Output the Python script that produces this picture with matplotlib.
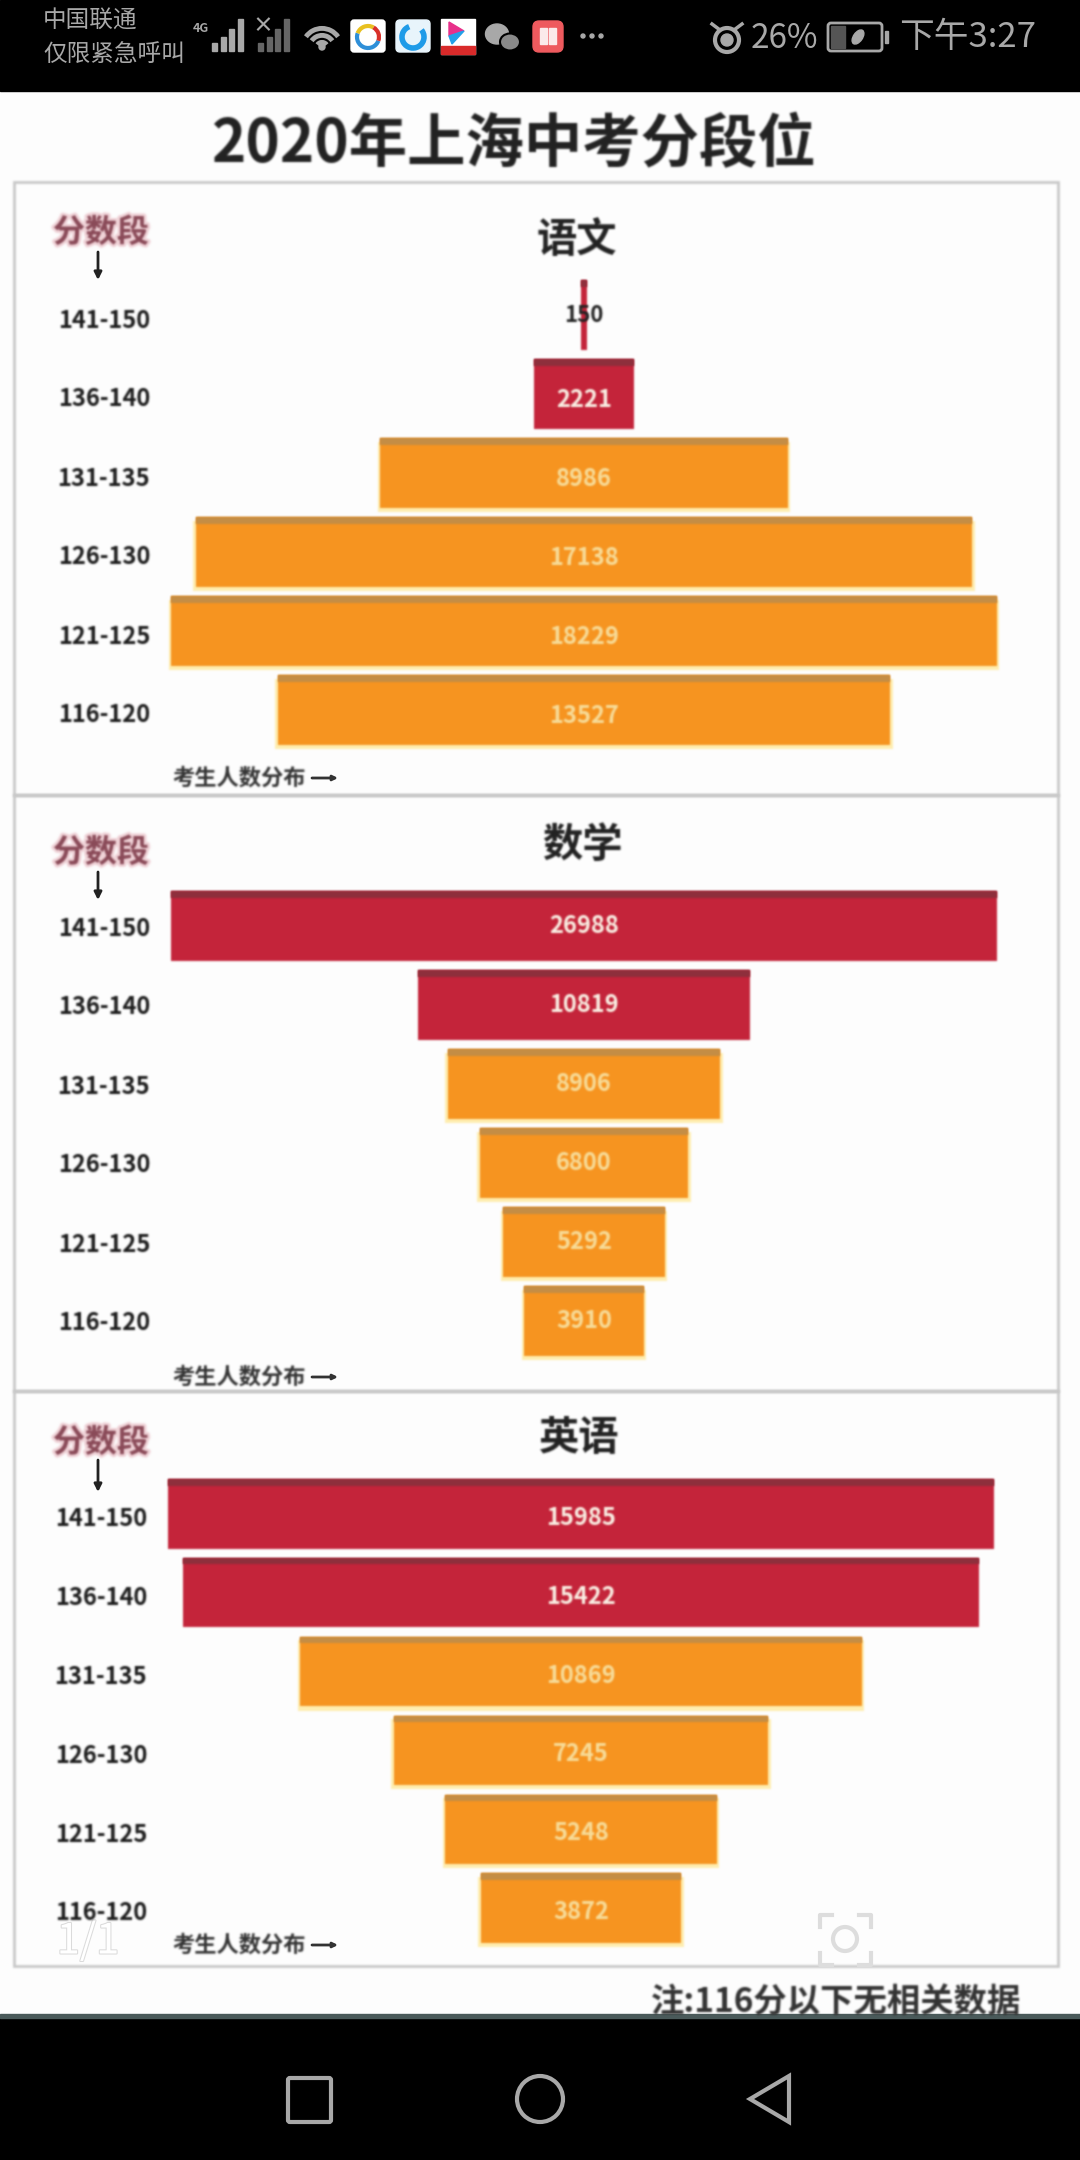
import matplotlib
matplotlib.use("Agg")
from matplotlib import pyplot as plt
from matplotlib import patches
from matplotlib import patheffects as pe
from matplotlib.transforms import ScaledTranslation
import numpy as np

plt.rcParams['font.family'] = ['Noto Sans CJK SC', 'DejaVu Sans']

W, H = 1080, 2160

title = "2020年上海中考分段位"
note = "注:116分以下无相关数据"
score_bands = ["141-150", "136-140", "131-135", "126-130", "121-125", "116-120"]
subjects = ["语文", "数学", "英语"]
chinese = [150, 2221, 8986, 17138, 18229, 13527]
maths = [26988, 10819, 8906, 6800, 5292, 3910]
english = [15985, 15422, 10869, 7245, 5248, 3872]
n_red = [2, 2, 2]

RED, RED_TOP = "#c4243a", "#8e2f3c"
ORANGE, ORANGE_TOP = "#f69420", "#c48d45"
GLOW = "#ffeeb0"
GREY = "#a8a8a8"


def blur(image, dpi):  # the source is a blurry photo
    pad = 5
    kernel = np.array([1, 4, 7, 4, 1]) / 17
    img = np.pad(image, ((pad, pad), (pad, pad), (0, 0)), mode="constant")
    alpha = img[..., 3:].copy()
    img[..., :3] *= alpha  # premultiply, otherwise edges go dark
    for axis in (0, 1):
        img = np.apply_along_axis(lambda m: np.convolve(m, kernel, mode="same"), axis, img)
    a = np.clip(img[..., 3:], 1e-4, 1)
    img[..., :3] = np.clip(img[..., :3] / a, 0, 1)
    return img, -pad, -pad


def soft(color="#999999", w=3, alpha=0.35):
    return [pe.withStroke(linewidth=w, foreground=color, alpha=alpha)]


def px_axes(left, top, right, bottom):
    return fig.add_axes([left / W, 1 - bottom / H, (right - left) / W, (bottom - top) / H])


def funnel(values, reds, left, right, first_y, last_y, label_dy, tick_dy):
    pitch = (last_y - first_y) / 5
    ax = px_axes(left, first_y - pitch / 2, right, last_y + pitch / 2)
    ax.patch.set_alpha(0)
    half = max(values) / 2
    ax.set_xlim(-half, half)
    ax.set_ylim(5.5, -0.5)
    for i, v in enumerate(values):
        is_red = i < reds
        if not is_red:
            glow = ax.barh(i + 0.05, v + max(values) * 0.006, left=-(v + max(values) * 0.006) / 2,
                           height=0.89, color=GLOW, clip_on=False)
            glow[0].set_agg_filter(blur)
        bar = ax.barh(i, v, left=-v / 2, height=0.88, color=RED if is_red else ORANGE)
        band = ax.barh(i - 0.40, v, left=-v / 2, height=0.08, color=RED_TOP if is_red else ORANGE_TOP)
        bar[0].set_agg_filter(blur)
        band[0].set_agg_filter(blur)
        if v < 1000:  # bar too thin, number in black over it
            t = ax.text(0, i, str(v), ha="center", va="center", fontsize=16, fontweight="bold",
                        color="#222222", zorder=5)
        else:
            t = ax.text(0, i + label_dy, str(v), ha="center", va="center", fontsize=17, fontweight="bold",
                        color="#fbf2e6" if is_red else "#f8dd9a", zorder=5)
        t.set_agg_filter(blur)
    ax.set_yticks(range(6))
    ax.set_yticklabels(score_bands, fontsize=17, fontweight="bold", color="#1c1c1c")
    ax.tick_params(axis="y", length=0, pad=15)
    shift = ScaledTranslation(0, -tick_dy / 100, fig.dpi_scale_trans)
    for lab in ax.get_yticklabels():
        lab.set_transform(lab.get_transform() + shift)
        lab.set_agg_filter(blur)
    ax.set_xticks([])
    for s in ax.spines.values():
        s.set_visible(False)
    return ax


fig = plt.figure(figsize=(W / 100, H / 100), dpi=100, facecolor="#fdfdfd")

# pixel canvas for phone chrome and panel frames
bg = fig.add_axes([0, 0, 1, 1])
bg.set_xlim(0, W)
bg.set_ylim(H, 0)
bg.axis("off")

bg.add_patch(patches.Rectangle((0, 0), W, 91, color="black"))
bg.add_patch(patches.Rectangle((0, 2018), W, 142, color="black"))
bg.add_patch(patches.Rectangle((0, 2014), W, 4, color="#4a5a5a"))

t = bg.text(514, 145, title, ha="center", va="center", fontsize=42, fontweight="bold", color="#222222")
t.set_agg_filter(blur)

for top, bottom in [(182, 795), (795, 1391), (1391, 1966)]:
    frame = patches.Rectangle((14, top), 1044, bottom - top, fill=False, ec="#c9c9c9", lw=2)
    bg.add_patch(frame)
    frame.set_agg_filter(blur)

head_y = [233, 853, 1443]
arrow_y = [(252, 280), (872, 900), (1460, 1492)]
sub_x = [577, 582, 579]
sub_y = [240, 845, 1439]
foot_y = [778, 1377, 1945]
for i in range(3):
    t = bg.text(101, head_y[i], "分数段", ha="center", va="center", fontsize=23, fontweight="bold",
                color="#8a4a58", path_effects=soft("#e8b8c0", 4, 0.6))
    t.set_agg_filter(blur)
    bg.annotate("", xy=(98, arrow_y[i][1]), xytext=(98, arrow_y[i][0]),
                arrowprops=dict(arrowstyle="-|>", color="#222222", lw=2, mutation_scale=11, shrinkA=0, shrinkB=0))
    t = bg.text(sub_x[i], sub_y[i], subjects[i], ha="center", va="center", fontsize=29, fontweight="bold",
                color="#222222")
    t.set_agg_filter(blur)
    t = bg.text(172, foot_y[i], "考生人数分布", ha="left", va="center", fontsize=16, fontweight="bold",
                color="#333333")
    t.set_agg_filter(blur)
    bg.annotate("", xy=(338, foot_y[i]), xytext=(312, foot_y[i]),
                arrowprops=dict(arrowstyle="-|>", color="#333333", lw=2, mutation_scale=7, shrinkA=0, shrinkB=0))

t = bg.text(1021, 2003, note, ha="right", va="center", fontsize=24, fontweight="bold", color="#333333")
t.set_agg_filter(blur)

# status bar
bg.text(43, 21, "中国联通", ha="left", va="center", fontsize=17, color=GREY)
bg.text(43, 54, "仅限紧急呼叫", ha="left", va="center", fontsize=17, color=GREY)
bg.text(201, 29, "4G", ha="center", va="center", fontsize=9, fontweight="bold", color=GREY)
for k, h in enumerate([8, 14, 22, 32]):
    bg.add_patch(patches.Rectangle((212 + k * 8.5, 51 - h), 5, h, color=GREY))
    bg.add_patch(patches.Rectangle((258 + k * 8.5, 51 - h), 5, h, color="#666666"))
bg.text(263, 26, "×", ha="center", va="center", fontsize=15, fontweight="bold", color=GREY)
for r in [8, 18, 28]:
    bg.add_patch(patches.Arc((322, 48), r * 1.4, r * 1.4, theta1=215, theta2=325, color=GREY, lw=3.5))
bg.add_patch(patches.Circle((322, 47), 3, color=GREY))

bg.add_patch(patches.FancyBboxPatch((352, 21), 32, 30, boxstyle="round,pad=1,rounding_size=3", color="white"))
bg.add_patch(patches.Arc((368, 37), 22, 22, theta1=20, theta2=200, color="#2e8fd8", lw=3))
bg.add_patch(patches.Arc((368, 37), 22, 22, theta1=200, theta2=300, color="#e8c020", lw=3))
bg.add_patch(patches.Arc((368, 37), 22, 22, theta1=300, theta2=380, color="#d8302a", lw=3))
bg.add_patch(patches.FancyBboxPatch((397, 21), 32, 30, boxstyle="round,pad=1,rounding_size=4", color="#e8f4fb"))
bg.add_patch(patches.Arc((413, 37), 22, 22, theta1=-40, theta2=250, color="#1f9be8", lw=4))
bg.add_patch(patches.Rectangle((441, 19), 34, 35, color="white"))
bg.add_patch(patches.Rectangle((441, 46), 34, 8, color="#d92a2a"))
bg.add_patch(patches.Polygon([[449, 22], [464, 31], [449, 36]], color="#e8308a"))
bg.add_patch(patches.Polygon([[464, 31], [449, 36], [452, 44]], color="#22a0e8"))
bg.add_patch(patches.Ellipse((497, 34), 23, 20, color=GREY))
bg.add_patch(patches.Ellipse((510, 42), 20, 17, color="#8a8a8a", ec="black", lw=1.5))
bg.add_patch(patches.FancyBboxPatch((534, 22), 28, 29, boxstyle="round,pad=1,rounding_size=6", color="#ee5a5e"))
bg.add_patch(patches.Rectangle((540, 28), 7, 16, color="#fbeaea"))
bg.add_patch(patches.Rectangle((549, 28), 7, 16, color="#fbeaea"))
for x in [583, 592, 601]:
    bg.add_patch(patches.Circle((x, 36), 2, color=GREY))

bg.add_patch(patches.Circle((727, 40), 12, fill=False, ec=GREY, lw=3))
bg.add_patch(patches.Circle((727, 40), 6, color=GREY))
bg.plot([712, 720], [24, 30], color=GREY, lw=2.5)
bg.plot([742, 734], [24, 30], color=GREY, lw=2.5)
bg.text(784, 38, "26%", ha="center", va="center", fontsize=24, color=GREY)
bg.add_patch(patches.FancyBboxPatch((829, 24), 52, 26, boxstyle="round,pad=1,rounding_size=3", fill=False, ec=GREY, lw=2))
bg.add_patch(patches.Rectangle((831, 26), 14, 22, color="#555555"))
bg.add_patch(patches.Ellipse((858, 37), 9, 16, angle=35, color=GREY))
bg.add_patch(patches.Rectangle((885, 31), 3, 12, color=GREY))
bg.text(968, 38, "下午3:27", ha="center", va="center", fontsize=25, color=GREY)

# nav bar
bg.add_patch(patches.FancyBboxPatch((289, 2079), 41, 42, boxstyle="round,pad=1,rounding_size=2", fill=False, ec=GREY, lw=3))
bg.add_patch(patches.Circle((540, 2099), 23, fill=False, ec=GREY, lw=3))
bg.add_patch(patches.Polygon([[789, 2076], [750, 2099], [789, 2122]], closed=True, fill=False, ec=GREY, lw=3))

# gallery overlay
bg.text(88, 1942, "1/1", ha="center", va="center", fontsize=30, color="white", zorder=20,
        path_effects=soft("#bbbbbb", 1.5, 0.5))
bg.add_patch(patches.Circle((845, 1939), 12, fill=False, ec="#dddddd", lw=3, zorder=20))
for cx, cy, dx, dy in [(820, 1915, 1, 1), (871, 1915, -1, 1), (820, 1965, 1, -1), (871, 1965, -1, -1)]:
    bg.plot([cx + 12 * dx, cx, cx], [cy, cy, cy + 12 * dy], color="#dddddd", lw=3, zorder=20)

funnel(chinese, n_red[0], 171, 997, 315, 710, 0.07, 3)
funnel(maths, n_red[1], 171, 997, 926, 1321, 0.0, 0)
funnel(english, n_red[2], 168, 994, 1514, 1908, 0.05, 3)

fig.savefig("out.png", dpi=100, facecolor=fig.get_facecolor())
